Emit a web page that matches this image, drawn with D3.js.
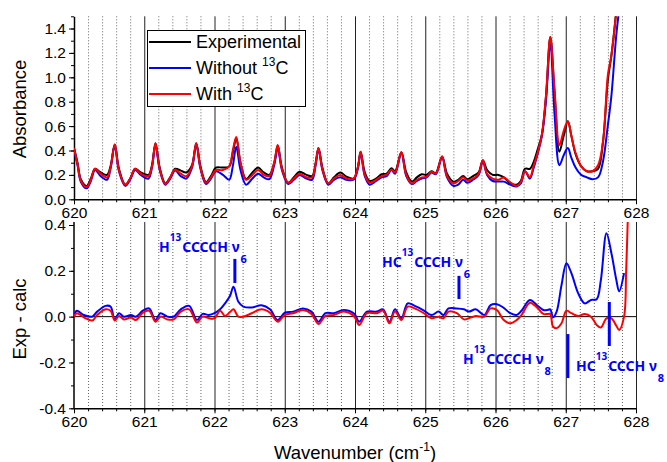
<!DOCTYPE html>
<html>
<head>
<meta charset="utf-8">
<script src="https://cdn.jsdelivr.net/npm/d3@7"></script>
<style>
  body { margin: 0; background: #fff; }
  svg { font-family: "Liberation Sans", Arial, sans-serif; }
  .tick text { font-size: 15.5px; font-family: "Liberation Sans", Arial, sans-serif; }
  .annot { font-family: "Noto Sans", sans-serif; font-weight: bold; fill: #0000ff; }
</style>
</head>
<body>
<div id="chart"></div>
<script>
// ---------- data ----------
// top panel: absorbance
const topWn = [620.00,620.05,620.10,620.18,620.24,620.30,620.38,620.47,620.52,620.58,620.64,620.73,620.80,620.87,620.95,621.06,621.11,621.16,621.22,621.30,621.37,621.44,621.52,621.60,621.68,621.74,621.80,621.88,621.95,622.02,622.12,622.21,622.26,622.31,622.37,622.45,622.54,622.62,622.70,622.78,622.85,622.90,622.96,623.05,623.13,623.21,623.31,623.39,623.44,623.48,623.54,623.62,623.70,623.79,623.88,623.98,624.04,624.08,624.14,624.21,624.30,624.38,624.45,624.52,624.57,624.66,624.73,624.81,624.88,624.95,625.02,625.09,625.15,625.24,625.31,625.40,625.47,625.54,625.60,625.68,625.76,625.82,625.88,625.96,626.04,626.12,626.21,626.30,626.36,626.42,626.49,626.54,626.59,626.66,626.72,626.78,626.84,626.91,626.97,627.03,627.08,627.14,627.22,627.30,627.38,627.46,627.53,627.60,627.65,627.72,627.77];
const experimental = [0.42,0.30,0.16,0.11,0.17,0.25,0.22,0.20,0.27,0.45,0.25,0.12,0.17,0.25,0.22,0.20,0.28,0.46,0.26,0.13,0.18,0.25,0.235,0.22,0.28,0.46,0.27,0.14,0.19,0.26,0.26,0.27,0.38,0.50,0.30,0.165,0.22,0.26,0.22,0.20,0.30,0.44,0.26,0.135,0.18,0.225,0.20,0.19,0.30,0.42,0.25,0.13,0.18,0.22,0.185,0.17,0.26,0.39,0.22,0.15,0.17,0.205,0.21,0.255,0.23,0.385,0.22,0.145,0.18,0.205,0.20,0.23,0.215,0.35,0.21,0.145,0.16,0.19,0.165,0.19,0.22,0.32,0.24,0.20,0.20,0.18,0.13,0.12,0.15,0.25,0.25,0.30,0.39,0.53,0.85,1.33,0.88,0.39,0.52,0.64,0.52,0.37,0.27,0.23,0.23,0.25,0.47,0.98,1.18,1.55,1.9];
const without13C = [0.41,0.28,0.14,0.09,0.15,0.24,0.19,0.16,0.25,0.44,0.23,0.11,0.16,0.24,0.20,0.17,0.26,0.45,0.24,0.12,0.17,0.235,0.19,0.17,0.26,0.45,0.25,0.125,0.17,0.23,0.20,0.16,0.27,0.43,0.24,0.12,0.17,0.21,0.18,0.165,0.28,0.42,0.24,0.125,0.16,0.20,0.17,0.16,0.28,0.41,0.23,0.12,0.16,0.18,0.16,0.16,0.25,0.38,0.19,0.12,0.15,0.18,0.19,0.24,0.21,0.38,0.19,0.125,0.15,0.17,0.18,0.22,0.205,0.345,0.18,0.11,0.12,0.16,0.135,0.16,0.20,0.31,0.20,0.15,0.145,0.145,0.12,0.105,0.13,0.23,0.17,0.25,0.35,0.52,0.82,1.29,0.70,0.28,0.36,0.42,0.34,0.26,0.20,0.18,0.165,0.18,0.31,0.61,0.85,1.35,1.6];
const with13C = [0.42,0.29,0.15,0.10,0.16,0.25,0.21,0.18,0.26,0.45,0.24,0.12,0.17,0.25,0.21,0.19,0.27,0.46,0.25,0.125,0.18,0.245,0.21,0.19,0.27,0.46,0.26,0.135,0.18,0.24,0.24,0.27,0.40,0.51,0.30,0.16,0.20,0.24,0.20,0.19,0.30,0.445,0.25,0.135,0.17,0.21,0.18,0.18,0.29,0.42,0.24,0.13,0.17,0.20,0.17,0.17,0.26,0.39,0.20,0.137,0.16,0.19,0.20,0.245,0.22,0.385,0.20,0.13,0.16,0.18,0.185,0.225,0.21,0.35,0.19,0.13,0.15,0.18,0.155,0.17,0.21,0.32,0.21,0.17,0.16,0.178,0.14,0.11,0.14,0.23,0.18,0.27,0.36,0.53,0.86,1.33,0.90,0.445,0.56,0.64,0.52,0.38,0.27,0.23,0.23,0.28,0.47,1.02,1.18,1.55,1.9];

// bottom panel: residuals exp - calc
const resWn = [620.00,620.04,620.14,620.26,620.33,620.45,620.52,620.58,620.64,620.71,620.81,620.88,620.98,621.07,621.16,621.23,621.33,621.42,621.52,621.64,621.75,621.83,621.92,622.00,622.08,622.15,622.22,622.27,622.34,622.41,622.53,622.67,622.79,622.90,623.00,623.12,623.26,623.38,623.48,623.58,623.70,623.84,623.99,624.06,624.17,624.31,624.40,624.49,624.57,624.66,624.75,624.85,624.97,625.09,625.19,625.26,625.33,625.45,625.55,625.62,625.72,625.84,625.93,626.02,626.11,626.21,626.30,626.37,626.49,626.59,626.68,626.75,626.78,626.82,626.87,626.94,627.01,627.08,627.18,627.27,627.36,627.44,627.50,627.58,627.65,627.72,627.76,627.83,627.86,627.89];
const resWithout = [0.007,0.026,0.007,0.0,0.022,0.047,0.044,-0.012,0.015,0.0,0.007,0.0,0.026,0.036,-0.015,0.015,0.0,0.0,0.032,0.047,-0.015,0.012,0.007,0.015,0.032,0.058,0.09,0.13,0.065,0.044,0.04,0.05,0.032,-0.015,0.017,0.022,0.036,0.022,-0.022,0.015,0.015,0.029,0.012,-0.022,0.022,0.022,0.032,-0.022,0.032,-0.007,0.058,0.047,0.029,0.007,0.022,0.007,0.036,0.036,0.032,0.022,0.032,0.007,0.05,0.054,0.04,0.015,0.007,0.026,0.073,0.05,0.029,0.03,0.032,-0.003,0.022,0.138,0.233,0.19,0.10,0.058,0.073,0.076,0.16,0.364,0.277,0.16,0.11,0.19,null,null];
const resWith = [0.0,0.015,-0.003,-0.017,0.007,0.032,0.026,-0.017,0.003,-0.012,-0.004,-0.015,0.017,0.026,-0.022,0.0,-0.012,-0.012,0.022,0.032,-0.026,0.0,-0.007,-0.007,0.026,0.003,0.02,0.032,0.0,0.0,0.015,0.032,0.017,-0.022,0.007,0.015,0.029,0.012,-0.032,0.003,0.007,0.022,0.0,-0.036,0.015,0.015,0.026,-0.029,0.022,-0.015,0.044,0.036,0.017,-0.007,0.0,-0.007,0.022,0.015,-0.012,-0.007,0.003,0.0,0.036,0.029,-0.012,-0.029,-0.015,0.007,0.061,0.04,0.012,0.012,0.012,-0.044,-0.05,-0.029,0.026,0.015,0.003,0.012,0.0,-0.036,-0.047,-0.007,-0.007,-0.04,-0.058,0.0,0.2,0.5];

const xTicks = [620, 621, 622, 623, 624, 625, 626, 627, 628];
const topTicks = [0.0, 0.2, 0.4, 0.6, 0.8, 1.0, 1.2, 1.4];
const botTicks = [-0.4, -0.2, 0.0, 0.2, 0.4];

const legendItems = [
  { name: "Experimental", sup: "", color: "#000000" },
  { name: "Without ", sup: "13", tail: "C", color: "#0000ff" },
  { name: "With ", sup: "13", tail: "C", color: "#ff0000" }
];

// labels: [before-sup, sup, after-sup, sub]
const annotations = [
  { parts: ["H", "13", "CCCCH \u03bd", "6"], x: 159, y: 252, wn: 622.29, d0: 0.252, d1: 0.147 },
  { parts: ["HC", "13", "CCCH \u03bd", "6"], x: 382, y: 267, wn: 625.48, d0: 0.178, d1: 0.077 },
  { parts: ["H", "13", "CCCCH \u03bd", "8"], x: 463, y: 364, wn: 627.03, d0: -0.076, d1: -0.268 },
  { parts: ["HC", "13", "CCCH \u03bd", "8"], x: 576, y: 371, wn: 627.62, d0: 0.064, d1: -0.128 }
];

// ---------- setup ----------
const width = 667, height = 462;
const svg = d3.select("#chart").append("svg").attr("width", width).attr("height", height);

const x = d3.scaleLinear().domain([620, 628]).range([74, 636]);
const yTop = d3.scaleLinear().domain([0, 1.5]).range([199.3, 16.3]);
const yBot = d3.scaleLinear().domain([-0.4, 0.4]).range([408.3, 225]);
const botTopPx = 222;

const minorX = d3.range(620, 628.001, 0.2).map((v) => +v.toFixed(1));

// clip paths
const defs = svg.append("defs");
defs.append("clipPath").attr("id", "clipTop").append("rect")
  .attr("x", 74).attr("y", yTop(1.5)).attr("width", 562).attr("height", yTop(0) - yTop(1.5));
defs.append("clipPath").attr("id", "clipBot").append("rect")
  .attr("x", 74).attr("y", botTopPx).attr("width", 562).attr("height", yBot(-0.4) - botTopPx);

function grid(y0, y1) {
  const g = svg.append("g");
  g.selectAll(".minor").data(minorX.filter((v) => Math.abs(v - Math.round(v)) > 0.01))
    .enter().append("line")
    .attr("x1", (d) => x(d) + 0.5).attr("x2", (d) => x(d) + 0.5)
    .attr("y1", y0).attr("y2", y1)
    .attr("stroke", "#666").attr("stroke-width", 1).attr("stroke-dasharray", "1,2");
  g.selectAll(".major").data(xTicks.slice(1))
    .enter().append("line")
    .attr("x1", (d) => x(d) + 0.5).attr("x2", (d) => x(d) + 0.5)
    .attr("y1", y0).attr("y2", y1)
    .attr("stroke", "#222").attr("stroke-width", 1);
}
grid(yTop(1.5), yTop(0));
grid(botTopPx, yBot(-0.4));

// zero line
svg.append("line")
  .attr("x1", 74).attr("x2", 636).attr("y1", yBot(0)).attr("y2", yBot(0))
  .attr("stroke", "#000").attr("stroke-width", 1);

// ---------- axes ----------
function xAxisAt(yPos) {
  svg.append("g").attr("transform", `translate(0,${yPos})`)
    .call(d3.axisBottom(x).tickValues(minorX).tickSize(3).tickFormat(""))
    .call((g) => g.select(".domain").remove());
  svg.append("g").attr("transform", `translate(0,${yPos})`)
    .call(d3.axisBottom(x).tickValues(xTicks).tickSize(5).tickSizeOuter(0).tickPadding(3).tickFormat(d3.format("d")))
    .call((g) => g.select(".domain").attr("stroke-width", 1.5));
}
xAxisAt(yTop(0));
xAxisAt(yBot(-0.4));

const fmt = (d) => (d < 0 ? "-" : "") + Math.abs(d).toFixed(1);

svg.append("g").attr("transform", "translate(74,0)")
  .call(d3.axisLeft(yTop).tickValues(d3.range(0, 1.51, 0.1)).tickSize(3).tickFormat(""))
  .call((g) => g.select(".domain").remove());
svg.append("g").attr("transform", "translate(74,0)")
  .call(d3.axisLeft(yTop).tickValues(topTicks).tickSize(5).tickSizeOuter(0).tickPadding(3).tickFormat(fmt))
  .call((g) => g.select(".domain").attr("stroke-width", 1.5));

svg.append("g").attr("transform", "translate(74,0)")
  .call(d3.axisLeft(yBot).tickValues(d3.range(-0.4, 0.41, 0.1)).tickSize(3).tickFormat(""))
  .call((g) => g.select(".domain").remove());
svg.append("g").attr("transform", "translate(74,0)")
  .call(d3.axisLeft(yBot).tickValues(botTicks).tickSize(5).tickSizeOuter(0).tickPadding(3).tickFormat(fmt))
  .call((g) => g.select(".domain").remove());
svg.append("line").attr("x1", 74).attr("x2", 74).attr("y1", botTopPx).attr("y2", yBot(-0.4))
  .attr("stroke", "#000").attr("stroke-width", 1.5);

svg.selectAll(".tick text").attr("fill", "#000");

// axis titles
svg.append("text").attr("transform", "translate(26,109) rotate(-90)")
  .attr("text-anchor", "middle").attr("font-size", 18.5).text("Absorbance");
svg.append("text").attr("transform", "translate(26,319) rotate(-90)")
  .attr("text-anchor", "middle").attr("font-size", 18.5).text("Exp - calc");
const xt = svg.append("text").attr("x", 355).attr("y", 459)
  .attr("text-anchor", "middle").attr("font-size", 18.5);
xt.append("tspan").text("Wavenumber (cm");
xt.append("tspan").attr("font-size", 12).attr("dy", -8).text("-1");
xt.append("tspan").attr("dy", 8).text(")");

// ---------- lines ----------
const curve = d3.curveCatmullRom.alpha(0.5);
function drawLine(wn, vals, yScale, color, clip) {
  const pts = wn.map((w, i) => [w, vals[i]]);
  svg.append("path")
    .datum(pts)
    .attr("clip-path", `url(#${clip})`)
    .attr("fill", "none")
    .attr("stroke", color)
    .attr("stroke-width", 2)
    .attr("stroke-linejoin", "round")
    .attr("d", d3.line().defined((d) => d[1] != null).curve(curve)
      .x((d) => x(d[0])).y((d) => yScale(d[1])));
}
drawLine(topWn, experimental, yTop, "#000000", "clipTop");
drawLine(topWn, without13C, yTop, "#0000ff", "clipTop");
drawLine(topWn, with13C, yTop, "#ff0000", "clipTop");
drawLine(resWn, resWithout, yBot, "#0000ff", "clipBot");
drawLine(resWn, resWith, yBot, "#ff0000", "clipBot");

// ---------- legend ----------
const lg = svg.append("g");
lg.append("rect").attr("x", 147.5).attr("y", 30.5).attr("width", 158).attr("height", 76)
  .attr("fill", "#fff").attr("stroke", "#000").attr("stroke-width", 1);
legendItems.forEach((d, i) => {
  const yy = 42 + i * 26;
  lg.append("line").attr("x1", 149).attr("x2", 191).attr("y1", yy).attr("y2", yy)
    .attr("stroke", d.color).attr("stroke-width", 2);
  const t = lg.append("text").attr("x", 196).attr("y", yy + 6).attr("font-size", 18);
  t.append("tspan").text(d.name);
  if (d.sup) {
    t.append("tspan").attr("font-size", 12).attr("dy", -8).text(d.sup);
    t.append("tspan").attr("dy", 8).text(d.tail);
  }
});

// ---------- annotations ----------
annotations.forEach((a) => {
  const t = svg.append("text").attr("class", "annot").attr("x", a.x).attr("y", a.y).attr("font-size", 14);
  t.append("tspan").text(a.parts[0]);
  t.append("tspan").attr("font-size", 10).attr("dy", -11).text(a.parts[1]);
  t.append("tspan").attr("dy", 11).attr("dx", 1).text(a.parts[2]);
  t.append("tspan").attr("font-size", 11).attr("dy", 11).attr("dx", 1).text(a.parts[3]);
  svg.append("line")
    .attr("x1", x(a.wn)).attr("x2", x(a.wn))
    .attr("y1", yBot(a.d0)).attr("y2", yBot(a.d1))
    .attr("stroke", "#0000ff").attr("stroke-width", 3);
});
</script>
</body>
</html>
